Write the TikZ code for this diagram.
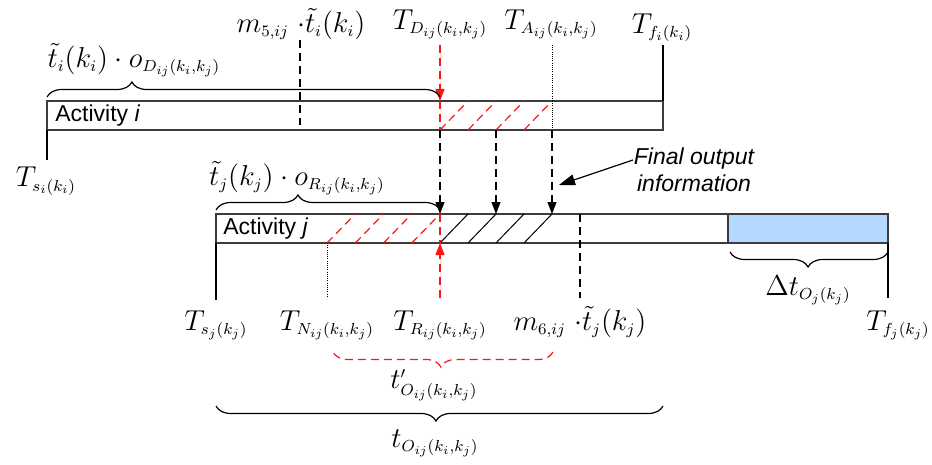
\documentclass[tikz,border=0pt]{standalone}
\usepackage{amsmath}
\usepackage{fontspec}
\setsansfont{Liberation Sans}
\DeclareMathSizes{15}{15}{8.5}{6.2}
\usetikzlibrary{positioning,calc}
\usetikzlibrary{arrows.meta,decorations.pathreplacing}
\definecolor{MarkRed}{RGB}{255,20,20}
\definecolor{SlackBlue}{RGB}{180,216,255}
\definecolor{EdgeGray}{RGB}{60,60,60}
\tikzset{
  bar/.style={draw=EdgeGray,line width=0.7pt},
  tick/.style={draw=black,line width=0.6pt},
  dashln/.style={draw=black,line width=0.6pt,dash pattern=on 4pt off 2.5pt},
  dotln/.style={draw=black,line width=0.5pt,dash pattern=on 0.5pt off 0.6pt},
  reddash/.style={draw=MarkRed,line width=0.6pt,dash pattern=on 4pt off 2.5pt},
  tip/.style={-{Triangle[length=6pt,width=4.5pt]}},
  brc/.style={decorate,decoration={brace,amplitude=7.5pt,aspect=#1}},
  lbl/.style={inner sep=0pt,font=\fontsize{15}{18}\selectfont},
  actname/.style={inner sep=0pt,font=\sffamily\fontsize{11.5}{13.5}\selectfont},
  note/.style={inner sep=0pt,font=\sffamily\itshape\fontsize{11.5}{13.5}\selectfont,align=center},
}

\begin{document}
\begin{tikzpicture}[x=0.5pt,y=-0.5pt]
\useasboundingbox (0,0) rectangle (932,465);

% activity i
\draw[bar] (47,101) rectangle (663,130);
\node[actname,anchor=west] (acti) at (55,116) {Activity \textit{i}};
\foreach \k in {0,1,2,3}
  \draw[reddash] (440+28*\k,130) -- (468+28*\k,101);

% activity j
\fill[SlackBlue] (728,214) rectangle (888,243);
\draw[bar] (216,214) rectangle (888,243);
\draw[bar] (728,214) -- (728,243);
\node[actname,anchor=west] (actj) at (223,229) {Activity \textit{j}};
\foreach \k in {0,1,2,3} {
  \draw[reddash] (327+28.25*\k,243) -- (355.25+28.25*\k,214);
  \draw[tick,line width=0.5pt] (440+28*\k,243) -- (468+28*\k,214);
}

% time marks
\coordinate (si) at (47,130);
\coordinate (fi) at (663,101);
\coordinate (di) at (440,101);
\coordinate (ai) at (552,101);
\coordinate (sj) at (216,243);
\coordinate (fj) at (888,243);
\coordinate (nj) at (327,243);
\coordinate (rj) at (440,243);

\node[lbl] (m5) at (301,24) {$m_{5,ij}\;{\cdot}\tilde{t}_i(k_i)$};
\node[lbl] (td) at (440,24) {$T_{D_{ij}(k_i,k_j)}$};
\node[lbl] (ta) at (551,24) {$T_{A_{ij}(k_i,k_j)}$};
\node[lbl] (tfi) at (662,28) {$T_{f_i(k_i)}$};
\node[lbl] (tsi) at (46,181) {$T_{s_i(k_i)}$};
\node[lbl] (tsj) at (216,325) {$T_{s_j(k_j)}$};
\node[lbl] (tn) at (327,325) {$T_{N_{ij}(k_i,k_j)}$};
\node[lbl] (tr) at (440,325) {$T_{R_{ij}(k_i,k_j)}$};
\node[lbl] (m6) at (580,322) {$m_{6,ij}\;{\cdot}\tilde{t}_j(k_j)$};
\node[lbl] (tfj) at (898,325) {$T_{f_j(k_j)}$};

\draw[tick] (si) -- (47,160);
\draw[tick] (fi) -- (663,45);
\draw[tick] (sj) -- (216,300);
\draw[tick] (fj) -- (888,298);
\draw[dashln] (300,40) -- (300,125);
\draw[dashln] (580,214) -- (580,298);
\draw[dotln] (ai) -- (552,45);
\draw[dotln] (ai) -- (552,130);
\draw[dotln] (nj) -- (327,298);

% transfers
\draw[reddash,-{Triangle[length=6pt,width=4.5pt]},fill=MarkRed] (440,45) -- (di);
\draw[reddash] (di) -- (440,130);
\draw[reddash] (440,214) -- (rj);
\draw[reddash,-{Triangle[length=6pt,width=4.5pt]},fill=MarkRed] (440,298) -- (rj);
\foreach \x in {440,496,552}
  \draw[dashln,tip] (\x,130) -- (\x,214);

\node[note] (fo) at (694,170) {Final output\\information};
\coordinate (fotip) at (559,185);
\draw[tick,-{Triangle[length=8pt,width=5.5pt]}] (633,160) -- (fotip);

% braces
\draw[tick,brc=0.216] (47,97) -- (440,97);
\node[lbl] (oD) at (134,60) {$\tilde{t}_i(k_i)\cdot o_{D_{ij}(k_i,k_j)}$};
\draw[tick,brc=0.366] (216,210) -- (440,210);
\node[lbl] (oR) at (297,178) {$\tilde{t}_j(k_j)\cdot o_{R_{ij}(k_i,k_j)}$};
\draw[tick,brc=0.506] (888,252) -- (730,252);
\node[lbl] (dt) at (808,290) {$\Delta t_{O_j(k_j)}$};
\draw[reddash,brc=0.51] (553,352) -- (333,352);
\node[lbl] (tp) at (434,385) {$t'_{O_{ij}(k_i,k_j)}$};
\draw[tick,brc=0.508] (663,406) -- (216,406);
\node[lbl] (to) at (435,443) {$t_{O_{ij}(k_i,k_j)}$};
\end{tikzpicture}
\end{document}
